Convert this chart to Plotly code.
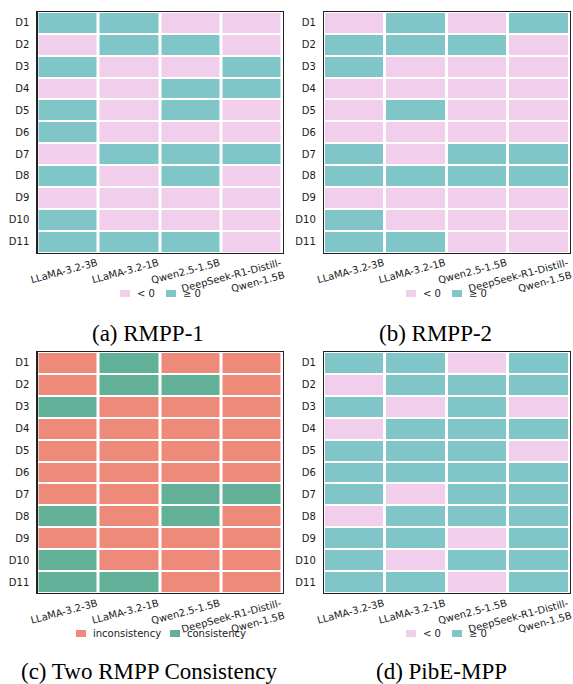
import plotly.graph_objects as go

# ---------------- data ----------------
models = ["LLaMA-3.2-3B", "LLaMA-3.2-1B", "Qwen2.5-1.5B", "DeepSeek-R1-Distill-<br>Qwen-1.5B"]
datasets = ["D1", "D2", "D3", "D4", "D5", "D6", "D7", "D8", "D9", "D10", "D11"]

# 1 = ">= 0", 0 = "< 0"
rmpp1 = [
    [1, 1, 0, 0],
    [0, 1, 1, 0],
    [1, 0, 0, 1],
    [0, 0, 1, 1],
    [1, 0, 1, 0],
    [1, 0, 0, 0],
    [0, 1, 1, 1],
    [1, 0, 1, 0],
    [0, 0, 0, 0],
    [1, 0, 0, 0],
    [1, 1, 1, 0],
]
rmpp2 = [
    [0, 1, 0, 1],
    [1, 1, 1, 0],
    [1, 0, 0, 0],
    [0, 0, 0, 0],
    [0, 1, 0, 0],
    [0, 0, 0, 0],
    [1, 0, 1, 1],
    [1, 1, 1, 1],
    [0, 0, 0, 0],
    [1, 0, 0, 0],
    [1, 1, 0, 0],
]
# 1 = consistency, 0 = inconsistency
consistency = [
    [0, 1, 0, 0],
    [0, 1, 1, 0],
    [1, 0, 0, 0],
    [0, 0, 0, 0],
    [0, 0, 0, 0],
    [0, 0, 0, 0],
    [0, 0, 1, 1],
    [1, 0, 1, 0],
    [0, 0, 0, 0],
    [1, 0, 0, 0],
    [1, 1, 0, 0],
]
pibe_mpp = [
    [1, 1, 0, 1],
    [0, 1, 1, 1],
    [1, 0, 1, 0],
    [0, 1, 1, 1],
    [1, 1, 1, 0],
    [1, 1, 1, 1],
    [1, 0, 1, 1],
    [0, 1, 1, 1],
    [1, 1, 0, 1],
    [1, 0, 1, 1],
    [1, 1, 0, 1],
]

sign_labels = ["< 0", "≥ 0"]
cons_labels = ["inconsistency", "consistency"]
captions = ["(a) RMPP-1", "(b) RMPP-2", "(c) Two RMPP Consistency", "(d) PibE-MPP"]

# ---------------- styles ----------------
PINK = "#F1CFEC"
TEAL = "#80C6C9"
SALMON = "#EE8A7A"
GREEN = "#62B097"

W, H = 573, 684
SANS = "DejaVu Sans"
SERIF = "Liberation Serif"
TXT = "#1a1a1a"

# legend geometry (pixels): left x of each swatch, legend centre y
panels = [
    dict(z=rmpp1, c0=PINK, c1=TEAL, labels=sign_labels, px=(37.5, 282.5), py=(12, 252.5),
         cap=(148, 333), leg_x=(120, 166), leg_y=293.5),
    dict(z=rmpp2, c0=PINK, c1=TEAL, labels=sign_labels, px=(324, 569.5), py=(12, 252.5),
         cap=(435, 333), leg_x=(406, 452), leg_y=293.5),
    dict(z=consistency, c0=SALMON, c1=GREEN, labels=cons_labels, px=(37.5, 282.5), py=(352, 593),
         cap=(149, 671), leg_x=(76, 170), leg_y=633.5),
    dict(z=pibe_mpp, c0=PINK, c1=TEAL, labels=sign_labels, px=(324, 569.5), py=(352, 593),
         cap=(441.5, 671), leg_x=(406, 452), leg_y=633.5),
]

fig = go.Figure()
layout = dict(
    width=W, height=H,
    margin=dict(l=0, r=0, t=0, b=0),
    paper_bgcolor="white", plot_bgcolor="white",
    font=dict(family=SANS, size=10, color=TXT),
    annotations=[], shapes=[],
    showlegend=False,
)

xcols = list(range(len(models)))
for i, p in enumerate(panels):
    n = "" if i == 0 else str(i + 1)
    xa, ya = "x" + n, "y" + n
    fig.add_trace(go.Heatmap(
        z=p["z"], x=xcols, y=datasets,
        colorscale=[[0, p["c0"]], [0.5, p["c0"]], [0.5, p["c1"]], [1, p["c1"]]],
        zmin=0, zmax=1, showscale=False, xgap=3, ygap=2,
        hoverinfo="skip", xaxis=xa, yaxis=ya,
    ))
    layout["xaxis" + n] = dict(
        domain=[p["px"][0] / W, p["px"][1] / W], anchor=ya,
        range=[-0.5, 3.5], tickmode="array",
        tickvals=[c + 0.47 for c in xcols], ticktext=models,
        tickangle=-15, ticks="", showgrid=False, zeroline=False,
        showline=True, mirror=True, linecolor="#222", linewidth=1.2,
        tickfont=dict(family=SANS, size=10, color=TXT), fixedrange=True,
        automargin=False, ticklabeloverflow="allow",
    )
    layout["yaxis" + n] = dict(
        domain=[1 - p["py"][1] / H, 1 - p["py"][0] / H], anchor=xa,
        autorange="reversed", ticks="", showgrid=False, zeroline=False,
        showline=True, mirror=True, linecolor="#222", linewidth=1.2,
        tickfont=dict(family=SANS, size=10, color=TXT), ticklabelstandoff=5,
        fixedrange=True, automargin=False,
    )
    # legend: swatch + label for each class
    for lab, col, lx in zip(p["labels"], [p["c0"], p["c1"]], p["leg_x"]):
        layout["shapes"].append(dict(
            type="rect", xref="paper", yref="paper",
            x0=lx / W, x1=(lx + 10) / W,
            y0=1 - (p["leg_y"] + 3.5) / H, y1=1 - (p["leg_y"] - 3.5) / H,
            fillcolor=col, line=dict(width=0),
        ))
        layout["annotations"].append(dict(
            text=lab, xref="paper", yref="paper",
            x=(lx + 16) / W, y=1 - p["leg_y"] / H,
            xanchor="left", yanchor="middle", showarrow=False,
            font=dict(family=SANS, size=10, color=TXT), borderpad=0,
        ))
    layout["annotations"].append(dict(
        text=captions[i], xref="paper", yref="paper",
        x=p["cap"][0] / W, y=1 - p["cap"][1] / H,
        xanchor="center", yanchor="middle", showarrow=False,
        font=dict(family=SERIF, size=23, color="black"), borderpad=0,
    ))

fig.update_layout(**layout)
fig.write_html(
    "out.html",
    config={"displayModeBar": False, "staticPlot": True},
    post_script="document.body.style.margin='0';document.body.style.overflow='hidden';",
)
